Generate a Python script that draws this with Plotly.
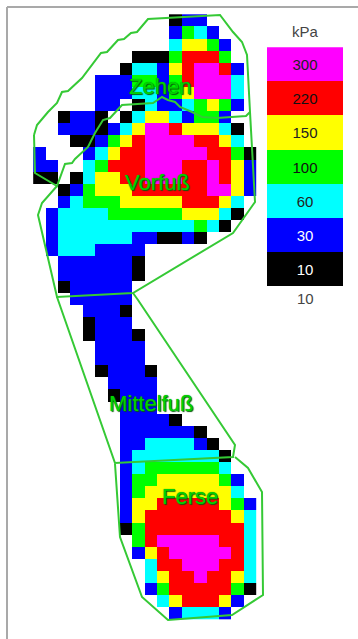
import plotly.graph_objects as go

legend_labels = ["300", "220", "150", "100", "60", "30", "10"]
legend_colors = ["#ff00ff", "#ff0000", "#ffff00", "#00ff00", "#00ffff", "#0000ff", "#000000"]
legend_text_colors = ["#222222", "#111111", "#222222", "#111111", "#222222", "#ffffff", "#ffffff"]
class_letters = ["K", "B", "C", "G", "Y", "R", "M"]
class_colors = legend_colors[::-1]

pressure_rows = [
"...........KBB....",
"...........BGCB...",
"...........CYYGB..",
"........KKKGRRRG..",
".......KCCBYRMMRB.",
".....BBBGGBGRMMMC.",
".....BBBCCBGYMMMC.",
".....BB.KCBBCGYGB.",
"..KBBK.KCYYCBGGB..",
"..BBBKBCYMMRYYYCK.",
"...KKBGYRMMMMRRYC.",
"B...BCYRRMMMMMRRGK",
"BB..CGRRRMMMRRMRYB",
"KK.KCYYRRMMMRRMRYB",
"..KBGYYYRRRRRRMMYB",
"..BCGGGYYYYYRRRYC.",
".BCCCCGGGGGGYYYCK.",
".BCCCCCCCCCCCGCK..",
".BCCCCCCBBKKBK....",
".BCCCBBBB.........",
"..BBBBBBK.........",
"..BBBBBBK.........",
"..KBBBBB..........",
"...BBBBB..........",
"....BBBK..........",
"....KBBB..........",
"....KBBBK.........",
".....BBBB.........",
".....BBBB.........",
".....KBBBK........",
"......BBBB........",
"......KBBB........",
".......BBB........",
".......BBBBK......",
".......BBBBBBK....",
".......BBCCCCBK...",
".......BCCCCCCCK..",
".......BCGGGGGGC..",
".......BGGYYYYYGB.",
".......BGYYYYYYYC.",
".......BYYRRRRRYGB",
".......BYRRRRRRRYC",
".......KGRRRRRRRRC",
"........GRMMMMMRRC",
"........BYRMMMMMRC",
".........CRRMMMRRC",
".........CYRRMRRYC",
".........BGRRRRRGK",
"..........CYRRRYB.",
"...........BCCCB..",
]

zehen_x = [34, 37, 48, 57, 62, 68, 82, 101, 107, 118, 124, 131, 137, 148, 220, 233, 242, 247, 250, 246, 217, 202, 192, 180, 175, 168, 162, 153, 122, 110, 103, 95, 88, 75, 72, 65, 57, 35, 34]
zehen_y = [135, 125, 112, 103, 92, 91, 78, 53, 52, 40, 39, 33, 32, 19, 15, 32, 42, 55, 112, 116, 118, 117, 112, 107, 102, 100, 97, 103, 105, 118, 120, 133, 147, 159, 163, 164, 186, 173, 135]
vorfuss_x = [57, 42, 38, 57, 133, 233, 255, 250]
vorfuss_y = [186, 203, 215, 297, 293, 233, 202, 112]
mittelfuss_x = [57, 115, 233, 235, 138, 133]
mittelfuss_y = [297, 463, 457, 445, 300, 293]
ferse_x = [115, 120, 142, 168, 232, 263, 262, 248, 235]
ferse_y = [464, 537, 597, 620, 615, 595, 492, 468, 457]
region_names = ["Zehen", "Vorfuß", "Mittelfuß", "Ferse"]
region_label_x = [160, 157, 151, 190]
region_label_y = [86.5, 182, 403.5, 496]

z = [[class_letters.index(ch) if ch != "." else None for ch in row] for row in pressure_rows]
n = len(class_colors)
colorscale = []
for i, c in enumerate(class_colors):
    colorscale += [[i / n, c], [(i + 1) / n, c]]

fig = go.Figure()
fig.add_trace(go.Heatmap(z=z, x0=39.39, dx=12.38, y0=20.35, dy=12.09, zmin=-0.5, zmax=n - 0.5,
                         colorscale=colorscale, showscale=False, hoverongaps=False, zsmooth=False))
GREEN = "#35c935"
for xs, ys in [(zehen_x, zehen_y), (vorfuss_x, vorfuss_y), (mittelfuss_x, mittelfuss_y), (ferse_x, ferse_y)]:
    fig.add_trace(go.Scatter(x=xs, y=ys, mode="lines", line=dict(color=GREEN, width=2), showlegend=False, hoverinfo="skip"))

fig.add_trace(go.Bar(
    x=[1] * len(legend_labels), y=list(range(len(legend_labels))),
    orientation="h", width=1, marker=dict(color=legend_colors, line_width=0),
    text=legend_labels, textposition="inside", insidetextanchor="middle", textangle=0,
    textfont=dict(family="Liberation Sans", size=15, color=legend_text_colors),
    xaxis="x2", yaxis="y2", showlegend=False))

W, H = 358, 639
annotations = [dict(x=x, y=y, xref="x", yref="y", text=t, showarrow=False,
                    font=dict(family="Liberation Sans", size=22, color="#00d400",
                              shadow="0 0 1px #0a7a0a, 1px 1px 1px #0a5a0a"))
               for t, x, y in zip(region_names, region_label_x, region_label_y)]
annotations += [
    dict(x=305 / W, y=1 - 31.5 / H, xref="paper", yref="paper", xanchor="center", yanchor="middle", text="kPa", showarrow=False,
         font=dict(family="Liberation Sans", size=15, color="#444444")),
    dict(x=305 / W, y=1 - 298.3 / H, xref="paper", yref="paper", xanchor="center", yanchor="middle", text="10", showarrow=False,
         font=dict(family="Liberation Sans", size=15, color="#444444")),
]
frame = dict(color="#a9a9a9", width=2)
shapes = [
    dict(type="line", xref="paper", yref="paper", x0=7 / W, x1=1, y0=1 - 7 / H, y1=1 - 7 / H, line=frame),
    dict(type="line", xref="paper", yref="paper", x0=7 / W, x1=7 / W, y0=1 - 7 / H, y1=0, line=frame),
]
fig.update_layout(
    width=W, height=H, autosize=False, margin=dict(l=0, r=0, t=0, b=0),
    paper_bgcolor="white", plot_bgcolor="rgba(0,0,0,0)", showlegend=False, bargap=0,
    xaxis=dict(range=[0, W], visible=False, fixedrange=True),
    yaxis=dict(range=[H, 0], visible=False, fixedrange=True),
    xaxis2=dict(domain=[267 / W, 343 / W], range=[0, 1], visible=False, anchor="y2", fixedrange=True),
    yaxis2=dict(domain=[1 - 286.7 / H, 1 - 47.3 / H], range=[6.5, -0.5], visible=False, anchor="x2", fixedrange=True),
    annotations=annotations, shapes=shapes,
)
fig.write_html("out.html", config={"displayModeBar": False},
               post_script="document.body.style.margin='0';document.documentElement.style.overflow='hidden';")
